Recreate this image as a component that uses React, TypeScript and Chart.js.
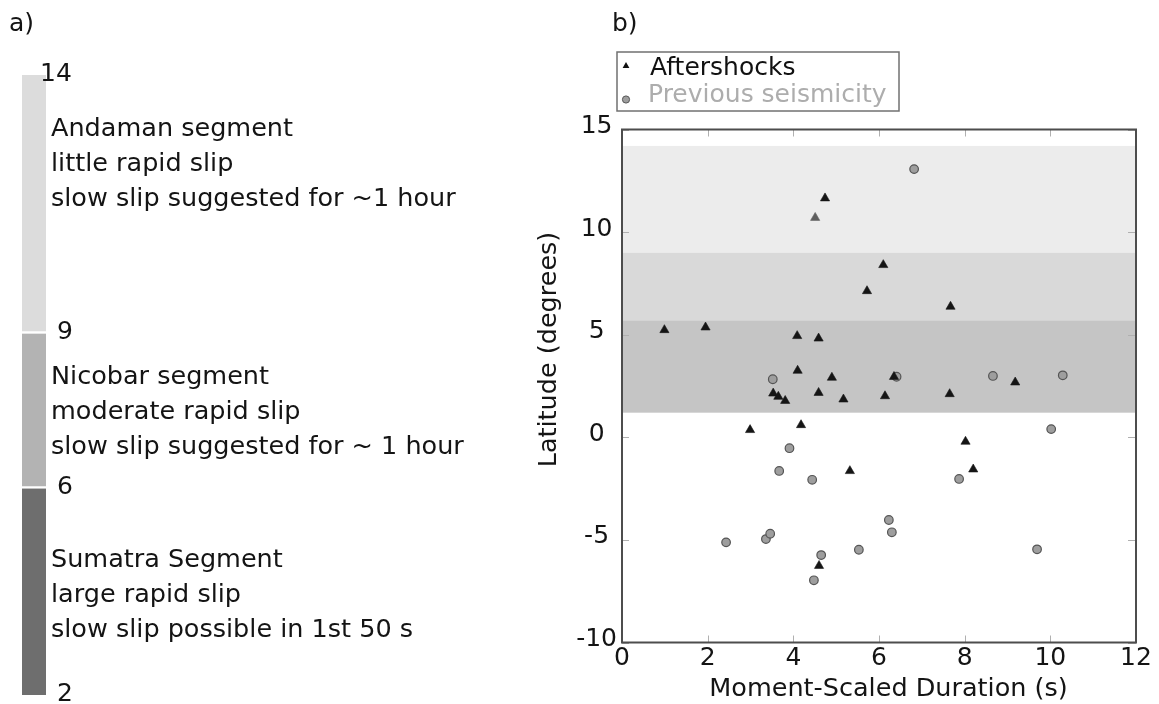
import React, { useEffect, useRef } from "react";
import { Chart, registerables } from "chart.js";

Chart.register(...registerables);

// ---------------- data: panel a) ----------------
const SEGMENT_NAMES = ["Andaman segment", "Nicobar segment", "Sumatra Segment"];
const SEGMENT_RANGES: [number, number][] = [
  [9, 14],
  [6, 9],
  [2, 6],
];
const SEGMENT_BOUNDARY_LABELS = [14, 9, 6, 2];
const SEGMENT_NOTES = [
  ["Andaman segment", "little rapid slip", "slow slip suggested for ~1 hour"],
  ["Nicobar segment", "moderate rapid slip", "slow slip suggested for ~ 1 hour"],
  ["Sumatra Segment", "large rapid slip", "slow slip possible in 1st 50 s"],
];

// ---------------- data: panel b) ----------------
const AFTERSHOCK_DURATION = [
  4.74, 4.51, 6.1, 5.72, 7.67, 0.99, 1.95, 4.09, 4.59, 4.1, 4.9, 3.53, 3.65,
  3.81, 4.59, 5.17, 6.14, 6.35, 7.65, 9.18, 2.99, 4.18, 8.02, 8.2, 5.32, 4.6,
];
const AFTERSHOCK_LATITUDE = [
  11.65, 10.7, 8.4, 7.13, 6.37, 5.23, 5.36, 4.94, 4.82, 3.25, 2.91, 2.14, 1.98,
  1.78, 2.17, 1.85, 2.01, 2.95, 2.11, 2.68, 0.36, 0.6, -0.21, -1.56, -1.64, -6.26,
];
const GREY_AFTERSHOCK = [1];

const PREVIOUS_DURATION = [
  6.82, 3.52, 6.41, 8.66, 10.29, 10.02, 3.91, 3.67, 4.44, 7.87, 6.23, 6.3, 5.53,
  9.69, 4.65, 2.43, 3.36, 3.46, 4.48,
];
const PREVIOUS_LATITUDE = [
  13.07, 2.83, 2.95, 2.99, 3.02, 0.4, -0.53, -1.64, -2.07, -2.03, -4.03, -4.63,
  -5.48, -5.46, -5.74, -5.12, -4.96, -4.7, -6.97,
];

const BAND_EDGES = [14.2, 9, 5.7, 1.2];

const X_MIN = 0;
const X_MAX = 12;
const X_STEP = 2;
const Y_MIN = -10;
const Y_MAX = 15;
const Y_STEP = 5;

const SERIES_NAMES = ["Aftershocks", "Previous seismicity"];
const X_TITLE = "Moment-Scaled Duration (s)";
const Y_TITLE = "Latitude (degrees)";

// ---------------- styles ----------------
const FONT = '"DejaVu Sans", "Liberation Sans", sans-serif';
const SEG_COLORS = ["#dcdcdc", "#b3b3b3", "#6e6e6e"];
const BAND_COLORS = ["#ececec", "#d9d9d9", "#c5c5c5"];

const leftText = {
  id: "leftText",
  afterDraw(chart: any) {
    const { ctx } = chart;
    const y = chart.scales.y;
    ctx.save();
    ctx.fillStyle = "#141414";
    ctx.textAlign = "left";
    ctx.textBaseline = "alphabetic";
    ctx.font = `25px ${FONT}`;
    ctx.fillText("a)", 9, 31);
    SEGMENT_BOUNDARY_LABELS.forEach((v, i) => {
      const py = y.getPixelForValue(v) + 6;
      ctx.fillText(String(v), i === 0 ? 40 : 57, py);
    });
    ctx.font = `25.5px ${FONT}`;
    const firstBaselines = [136, 384, 567];
    SEGMENT_NOTES.forEach((lines, b) => {
      lines.forEach((line, k) => {
        ctx.fillText(line, 51, firstBaselines[b] + k * 35);
      });
    });
    ctx.restore();
  },
};

const rightDecor = {
  id: "rightDecor",
  beforeDatasetsDraw(chart: any) {
    const { ctx, chartArea: a } = chart;
    const { x, y } = chart.scales;
    ctx.save();
    for (let i = 0; i < BAND_COLORS.length; i++) {
      const yTop = y.getPixelForValue(BAND_EDGES[i]);
      const yBot = y.getPixelForValue(BAND_EDGES[i + 1]);
      ctx.fillStyle = BAND_COLORS[i];
      ctx.fillRect(a.left, yTop, a.right - a.left, yBot - yTop);
    }
    ctx.strokeStyle = "#b0b0b0";
    ctx.lineWidth = 1;
    const seg = (x1: number, y1: number, x2: number, y2: number) => {
      ctx.beginPath();
      ctx.moveTo(x1, y1);
      ctx.lineTo(x2, y2);
      ctx.stroke();
    };
    x.ticks.forEach((t: any) => {
      const px = Math.round(x.getPixelForValue(t.value)) + 0.5;
      seg(px, a.top, px, a.top + 7);
      seg(px, a.bottom, px, a.bottom - 7);
    });
    y.ticks.forEach((t: any) => {
      const py = Math.round(y.getPixelForValue(t.value)) + 0.5;
      seg(a.left, py, a.left + 7, py);
      seg(a.right, py, a.right - 8, py);
    });
    ctx.restore();
  },
  afterDraw(chart: any) {
    const { ctx, chartArea: a } = chart;
    ctx.save();
    // frame
    ctx.strokeStyle = "#4d4d4d";
    ctx.lineWidth = 2;
    ctx.strokeRect(a.left, a.top, a.right - a.left, a.bottom - a.top);

    ctx.fillStyle = "#141414";
    ctx.font = `25.5px ${FONT}`;
    // x title
    ctx.textAlign = "center";
    ctx.textBaseline = "alphabetic";
    ctx.fillText(X_TITLE, 368.5, 696);
    // y title
    ctx.save();
    ctx.translate(29, 349.5);
    ctx.rotate(-Math.PI / 2);
    ctx.textBaseline = "middle";
    ctx.fillText(Y_TITLE, 0, 0);
    ctx.restore();
    // panel label
    ctx.textAlign = "left";
    ctx.font = `25px ${FONT}`;
    ctx.fillText("b)", 92, 31);

    // legend
    ctx.strokeStyle = "#707070";
    ctx.lineWidth = 1.5;
    ctx.strokeRect(97, 52, 282, 59);
    ctx.fillStyle = "#111111";
    ctx.beginPath();
    ctx.moveTo(106, 62);
    ctx.lineTo(109.4, 68);
    ctx.lineTo(102.6, 68);
    ctx.closePath();
    ctx.fill();
    ctx.beginPath();
    ctx.arc(106, 99.5, 3.6, 0, Math.PI * 2);
    ctx.fillStyle = "#9e9e9e";
    ctx.fill();
    ctx.strokeStyle = "#555555";
    ctx.lineWidth = 1;
    ctx.stroke();
    ctx.font = `25px ${FONT}`;
    ctx.fillStyle = "#111111";
    ctx.fillText(SERIES_NAMES[0], 130, 75);
    ctx.fillStyle = "#adadad";
    ctx.fillText(SERIES_NAMES[1], 128, 101.5);
    ctx.restore();
  },
};

export default function App() {
  const leftRef = useRef<HTMLCanvasElement>(null);
  const rightRef = useRef<HTMLCanvasElement>(null);

  useEffect(() => {
    if (!leftRef.current || !rightRef.current) return;

    const left = new Chart(leftRef.current, {
      type: "bar",
      data: {
        labels: ["segments"],
        datasets: SEGMENT_RANGES.map((r, i) => ({
          label: SEGMENT_NAMES[i],
          data: [r],
          backgroundColor: SEG_COLORS[i],
          borderColor: "#ffffff",
          borderWidth:
            i < SEGMENT_RANGES.length - 1
              ? { top: 0, bottom: 2.5, left: 0, right: 0 }
              : 0,
          borderSkipped: false,
          grouped: false,
          barPercentage: 1,
          categoryPercentage: 1,
        })) as any,
      },
      options: {
        responsive: false,
        animation: false,
        devicePixelRatio: 1,
        events: [],
        layout: { padding: { left: 22, right: 474, top: 75, bottom: 9 } },
        plugins: { legend: { display: false }, tooltip: { enabled: false } },
        scales: {
          x: { display: false },
          y: { display: false, min: 2, max: 14 },
        },
      },
      plugins: [leftText],
    });

    const right = new Chart(rightRef.current, {
      type: "scatter",
      data: {
        datasets: [
          {
            label: SERIES_NAMES[0],
            data: AFTERSHOCK_DURATION.map((d, i) => ({ x: d, y: AFTERSHOCK_LATITUDE[i] })),
            pointStyle: "triangle",
            pointRadius: 5.3,
            backgroundColor: (c: any) =>
              GREY_AFTERSHOCK.includes(c.dataIndex) ? "#5e5e5e" : "#151515",
            borderColor: (c: any) =>
              GREY_AFTERSHOCK.includes(c.dataIndex) ? "#5e5e5e" : "#151515",
            borderWidth: 0.6,
          },
          {
            label: SERIES_NAMES[1],
            data: PREVIOUS_DURATION.map((d, i) => ({ x: d, y: PREVIOUS_LATITUDE[i] })),
            pointStyle: "circle",
            pointRadius: 4.3,
            backgroundColor: "#9e9e9e",
            borderColor: "#555555",
            borderWidth: 1.2,
          },
        ] as any,
      },
      options: {
        responsive: false,
        animation: false,
        devicePixelRatio: 1,
        events: [],
        layout: { padding: { left: 0, right: 23, top: 129.5, bottom: 21.5 } },
        plugins: { legend: { display: false }, tooltip: { enabled: false } },
        scales: {
          x: {
            type: "linear",
            min: X_MIN,
            max: X_MAX,
            ticks: {
              stepSize: X_STEP,
              font: { family: FONT, size: 25 },
              color: "#141414",
              padding: 1,
              maxRotation: 0,
              autoSkip: false,
            },
            grid: { display: false, drawTicks: false },
            border: { display: false },
            afterFit: (s: any) => {
              s.height = 40;
            },
          },
          y: {
            type: "linear",
            min: Y_MIN,
            max: Y_MAX,
            ticks: {
              stepSize: Y_STEP,
              font: { family: FONT, size: 25 },
              color: "#141414",
              padding: 5,
              crossAlign: "center",
              labelOffset: -3,
            },
            grid: { display: false, drawTicks: false },
            border: { display: false },
            afterFit: (s: any) => {
              s.width = 102;
            },
          },
        },
      } as any,
      plugins: [rightDecor],
    });

    return () => {
      left.destroy();
      right.destroy();
    };
  }, []);

  return (
    <div
      style={{
        position: "absolute",
        left: 0,
        top: 0,
        width: 1159,
        height: 704,
        background: "#ffffff",
      }}
    >
      <canvas
        ref={leftRef}
        width={520}
        height={704}
        style={{ position: "absolute", left: 0, top: 0 }}
      />
      <canvas
        ref={rightRef}
        width={639}
        height={704}
        style={{ position: "absolute", left: 520, top: 0 }}
      />
    </div>
  );
}
